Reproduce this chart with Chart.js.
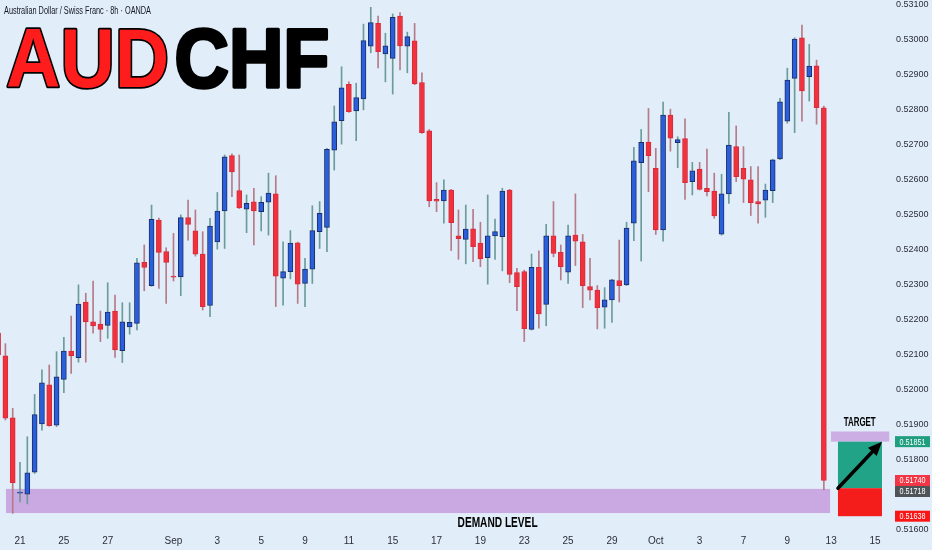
<!DOCTYPE html>
<html>
<head>
<meta charset="utf-8">
<title>AUDCHF 8h</title>
<script src="https://cdn.jsdelivr.net/npm/chart.js@4.4.1/dist/chart.umd.min.js"></script>
<style>
  html, body { margin: 0; padding: 0; background: #e1edf8; }
  canvas { display: block; }
</style>
</head>
<body>
<canvas id="chart" width="932" height="550"></canvas>
<script>
// 8h candles (oldest first)
const opens = [
  0.52161, 0.52096, 0.51919, 0.51704, 0.51701, 0.51764, 0.51902, 0.52013, 0.51898, 0.52029,
  0.52110, 0.52091, 0.52250, 0.52193, 0.52187, 0.52183, 0.52224, 0.52111, 0.52179, 0.52189,
  0.52363, 0.52297, 0.52484, 0.52394, 0.52324, 0.52322, 0.52491, 0.52453, 0.52387, 0.52240,
  0.52422, 0.52510, 0.52668, 0.52568, 0.52515, 0.52536, 0.52508, 0.52535, 0.52559, 0.52318,
  0.52337, 0.52419, 0.52303, 0.52344, 0.52451, 0.52463, 0.52684, 0.52768, 0.52872, 0.52796,
  0.52830, 0.52981, 0.53046, 0.52959, 0.52946, 0.53067, 0.52981, 0.52996, 0.52877, 0.52739,
  0.52543, 0.52539, 0.52570, 0.52439, 0.52429, 0.52459, 0.52418, 0.52377, 0.52439, 0.52437,
  0.52570, 0.52334, 0.52337, 0.52172, 0.52349, 0.52243, 0.52439, 0.52392, 0.52335, 0.52441,
  0.52422, 0.52294, 0.52284, 0.52235, 0.52256, 0.52311, 0.52299, 0.52475, 0.52648, 0.52707,
  0.52632, 0.52456, 0.52784, 0.52705, 0.52717, 0.52594, 0.52630, 0.52575, 0.52567, 0.52444,
  0.52559, 0.52694, 0.52632, 0.52599, 0.52537, 0.52541, 0.52568, 0.52659, 0.52767, 0.52889,
  0.53005, 0.52894, 0.52925, 0.52805
];
const highs = [
  0.52170, 0.52131, 0.51946, 0.51792, 0.51865, 0.51986, 0.52056, 0.52070, 0.52108, 0.52149,
  0.52210, 0.52299, 0.52275, 0.52310, 0.52224, 0.52305, 0.52270, 0.52248, 0.52248, 0.52375,
  0.52413, 0.52527, 0.52490, 0.52405, 0.52446, 0.52499, 0.52541, 0.52513, 0.52451, 0.52489,
  0.52563, 0.52670, 0.52673, 0.52670, 0.52556, 0.52575, 0.52551, 0.52618, 0.52611, 0.52422,
  0.52454, 0.52421, 0.52375, 0.52525, 0.52537, 0.52689, 0.52810, 0.52922, 0.52879, 0.52875,
  0.53044, 0.53092, 0.53067, 0.53018, 0.53073, 0.53077, 0.53021, 0.53046, 0.52905, 0.52743,
  0.52591, 0.52599, 0.52572, 0.52513, 0.52527, 0.52515, 0.52478, 0.52556, 0.52487, 0.52575,
  0.52572, 0.52346, 0.52341, 0.52387, 0.52396, 0.52472, 0.52537, 0.52413, 0.52470, 0.52559,
  0.52443, 0.52375, 0.52297, 0.52291, 0.52315, 0.52427, 0.52478, 0.52692, 0.52743, 0.52803,
  0.52689, 0.52821, 0.52801, 0.52722, 0.52773, 0.52649, 0.52649, 0.52687, 0.52618, 0.52615,
  0.52792, 0.52753, 0.52694, 0.52637, 0.52637, 0.52587, 0.52658, 0.52832, 0.52918, 0.53005,
  0.53041, 0.52986, 0.52941, 0.52810
];
const lows = [
  0.52090, 0.51913, 0.51646, 0.51679, 0.51673, 0.51760, 0.51884, 0.51895, 0.51894, 0.51991,
  0.52046, 0.52078, 0.52078, 0.52161, 0.52137, 0.52146, 0.52092, 0.52077, 0.52158, 0.52170,
  0.52282, 0.52295, 0.52289, 0.52246, 0.52310, 0.52268, 0.52427, 0.52381, 0.52227, 0.52208,
  0.52401, 0.52403, 0.52551, 0.52517, 0.52448, 0.52413, 0.52453, 0.52441, 0.52237, 0.52241,
  0.52316, 0.52246, 0.52237, 0.52303, 0.52403, 0.52394, 0.52627, 0.52701, 0.52792, 0.52711,
  0.52799, 0.52962, 0.52919, 0.52879, 0.52844, 0.52913, 0.52905, 0.52871, 0.52732, 0.52522,
  0.52508, 0.52475, 0.52397, 0.52372, 0.52359, 0.52365, 0.52351, 0.52301, 0.52372, 0.52339,
  0.52305, 0.52225, 0.52137, 0.52170, 0.52175, 0.52182, 0.52379, 0.52313, 0.52303, 0.52354,
  0.52234, 0.52256, 0.52173, 0.52175, 0.52192, 0.52250, 0.52297, 0.52425, 0.52367, 0.52565,
  0.52443, 0.52424, 0.52681, 0.52634, 0.52543, 0.52556, 0.52570, 0.52553, 0.52489, 0.52441,
  0.52532, 0.52594, 0.52534, 0.52497, 0.52475, 0.52492, 0.52534, 0.52657, 0.52761, 0.52734,
  0.52767, 0.52824, 0.52758, 0.51713
];
const closes = [
  0.52099, 0.51918, 0.51734, 0.51707, 0.51762, 0.51928, 0.52019, 0.51897, 0.52036, 0.52110,
  0.52096, 0.52244, 0.52193, 0.52182, 0.52172, 0.52221, 0.52113, 0.52193, 0.52192, 0.52362,
  0.52349, 0.52486, 0.52392, 0.52363, 0.52321, 0.52491, 0.52472, 0.52387, 0.52237, 0.52467,
  0.52510, 0.52665, 0.52622, 0.52519, 0.52532, 0.52510, 0.52535, 0.52561, 0.52324, 0.52337,
  0.52418, 0.52301, 0.52344, 0.52454, 0.52503, 0.52686, 0.52765, 0.52862, 0.52794, 0.52834,
  0.52997, 0.53048, 0.52965, 0.52982, 0.53063, 0.52982, 0.53008, 0.52873, 0.52734, 0.52539,
  0.52538, 0.52570, 0.52477, 0.52431, 0.52458, 0.52408, 0.52373, 0.52439, 0.52451, 0.52567,
  0.52329, 0.52294, 0.52174, 0.52349, 0.52216, 0.52439, 0.52389, 0.52351, 0.52439, 0.52424,
  0.52297, 0.52284, 0.52234, 0.52256, 0.52313, 0.52297, 0.52461, 0.52653, 0.52706, 0.52668,
  0.52456, 0.52784, 0.52718, 0.52714, 0.52591, 0.52625, 0.52572, 0.52565, 0.52496, 0.52559,
  0.52698, 0.52608, 0.52601, 0.52534, 0.52530, 0.52570, 0.52656, 0.52822, 0.52884, 0.53001,
  0.52853, 0.52924, 0.52805, 0.51740
];

// date labels under the candles (candle index -> text)
const tickIdx  = [3, 9, 15, 24, 30, 36, 42, 48, 54, 60, 66, 72, 78, 84, 90, 96, 102, 108, 114, 120];
const tickText = ['21', '25', '27', 'Sep', '3', '5', '9', '11', '15', '17', '19', '23', '25', '29', 'Oct', '3', '7', '9', '13', '15'];

// price axis
const priceTicks = [0.516, 0.518, 0.519, 0.520, 0.521, 0.522, 0.523, 0.524, 0.525,
                    0.526, 0.527, 0.528, 0.529, 0.530, 0.531];

// drawn levels
const demandZone = [0.51647, 0.51716];
const targetZone = [0.51851, 0.51880];
const entryPrice = 0.51718;
const targetPrice = 0.51851;
const stopPrice = 0.51638;
const lastPrice = 0.51740;

const BG = '#e1edf8';
const UP = '#2a5fdc', UP_EDGE = '#1c2e6a', UP_WICK = '#6b9b9b';
const DN = '#f0323f', DN_EDGE = '#d82a38', DN_WICK = '#b67b89';
const isUp = i => closes[i] >= opens[i];

// text squeezed to a given width (the picture is horizontally condensed)
function squeeze(ctx, str, x, y, font, color, width, align) {
  ctx.save();
  ctx.font = font;
  ctx.fillStyle = color;
  ctx.textBaseline = 'middle';
  ctx.textAlign = align || 'center';
  const w = ctx.measureText(str).width;
  ctx.translate(x, y);
  ctx.scale(width / w, 1);
  ctx.fillText(str, 0, 0);
  ctx.restore();
}

const overlay = {
  id: 'overlay',
  beforeDraw(chart) {
    const ctx = chart.ctx;
    ctx.save();
    ctx.fillStyle = BG;
    ctx.fillRect(0, 0, chart.width, chart.height);
    ctx.restore();
  },
  beforeDatasetsDraw(chart) {
    const ctx = chart.ctx, X = v => chart.scales.x.getPixelForValue(v), Y = v => chart.scales.y.getPixelForValue(v);
    ctx.save();
    // demand zone
    ctx.fillStyle = '#caa9e2';
    ctx.fillRect(X(1.08), Y(demandZone[1]), X(113.85) - X(1.08), Y(demandZone[0]) - Y(demandZone[1]));
    // target zone
    ctx.fillStyle = '#ccaee4';
    ctx.fillRect(X(113.97), Y(targetZone[1]), X(121.95) - X(113.97), Y(targetZone[0]) - Y(targetZone[1]));
    // long position box
    const x0 = X(114.93), x1 = X(120.95);
    ctx.fillStyle = '#20a386';
    ctx.fillRect(x0, Y(targetPrice), x1 - x0, Y(entryPrice) - Y(targetPrice));
    ctx.fillStyle = '#f51c1c';
    ctx.fillRect(x0, Y(entryPrice), x1 - x0, Y(stopPrice) - Y(entryPrice));
    ctx.restore();
  },
  afterDatasetsDraw(chart) {
    const ctx = chart.ctx, X = v => chart.scales.x.getPixelForValue(v), Y = v => chart.scales.y.getPixelForValue(v);
    // arrow entry -> target
    const ax = X(114.93), ay = Y(entryPrice), bx = X(120.95), by = Y(targetPrice);
    const ang = Math.atan2(by - ay, bx - ax), head = 14;
    ctx.save();
    ctx.strokeStyle = '#000';
    ctx.fillStyle = '#000';
    ctx.lineWidth = 3.5;
    ctx.lineCap = 'round';
    ctx.beginPath();
    ctx.moveTo(ax, ay);
    ctx.lineTo(bx - Math.cos(ang) * head * 0.8, by - Math.sin(ang) * head * 0.8);
    ctx.stroke();
    ctx.beginPath();
    ctx.moveTo(bx, by);
    ctx.lineTo(bx - Math.cos(ang) * head + Math.sin(ang) * 6, by - Math.sin(ang) * head - Math.cos(ang) * 6);
    ctx.lineTo(bx - Math.cos(ang) * head - Math.sin(ang) * 6, by - Math.sin(ang) * head + Math.cos(ang) * 6);
    ctx.closePath();
    ctx.fill();
    ctx.restore();

    squeeze(ctx, 'TARGET', X(117.9), Y(0.51906), 'bold 12px "Liberation Sans"', '#000', 32);
    squeeze(ctx, 'DEMAND LEVEL', X(68.35), Y(0.51619), 'bold 14px "Liberation Sans"', '#000', 80);

    // headings
    squeeze(ctx, 'Australian Dollar / Swiss Franc · 8h · OANDA', 4, 11, '10px "Liberation Sans"', '#131722', 147, 'left');
    ctx.save();
    ctx.font = 'bold 84px "Liberation Sans"';
    const wA = ctx.measureText('AUD').width, wC = ctx.measureText('CHF').width;
    const sx = 318 / (wA + wC);
    ctx.translate(6, 86.5);
    ctx.scale(sx, 1);
    ctx.textBaseline = 'alphabetic';
    ctx.lineJoin = 'round';
    ctx.lineWidth = 3.5;
    ctx.strokeStyle = '#000';
    ctx.strokeText('AUD', 0, 0);
    ctx.fillStyle = '#ff1c1c';
    ctx.fillText('AUD', 0, 0);
    ctx.strokeText('CHF', wA + 6, 0);
    ctx.fillStyle = '#000';
    ctx.fillText('CHF', wA + 6, 0);
    ctx.restore();
  },
  afterDraw(chart) {
    const ctx = chart.ctx, Y = v => chart.scales.y.getPixelForValue(v);
    const tags = [
      [targetPrice, '#1f9e80'],
      [lastPrice, '#f23645'],
      [entryPrice, '#4f5459'],
      [stopPrice, '#fb1515']
    ];
    let prevBottom = -1e9;
    tags.forEach(([v, col]) => {
      let cy = Y(v);
      if (cy - 5.5 < prevBottom) cy = prevBottom + 5.5;
      prevBottom = cy + 5.5;
      ctx.save();
      ctx.fillStyle = col;
      ctx.fillRect(895, cy - 5.5, 35, 11);
      ctx.restore();
      squeeze(ctx, v.toFixed(5), 912.5, cy + 0.5, '9px "Liberation Sans"', '#fff', 26);
    });
  }
};

const bodies = {
  data: opens.map((o, i) => ({ x: i, y: [o, closes[i]] })),
  backgroundColor: c => isUp(c.dataIndex) ? UP : DN,
  borderColor: c => isUp(c.dataIndex) ? UP_EDGE : DN_EDGE,
  borderWidth: 1,
  borderSkipped: false,
  barThickness: 5,
  grouped: false
};
const wicks = {
  data: lows.map((l, i) => ({ x: i, y: [l, highs[i]] })),
  backgroundColor: c => isUp(c.dataIndex) ? UP_WICK : DN_WICK,
  borderWidth: 0,
  barThickness: 1,
  grouped: false
};

new Chart(document.getElementById('chart'), {
  type: 'bar',
  data: { datasets: [bodies, wicks] },
  options: {
    responsive: false,
    animation: false,
    devicePixelRatio: 1,
    layout: { padding: 0 },
    plugins: { legend: { display: false }, tooltip: { enabled: false } },
    scales: {
      x: {
        type: 'linear',
        offset: false,
        min: 0.261,
        max: 122.05,
        grid: { display: false, drawTicks: false, offset: false },
        border: { display: false },
        ticks: {
          autoSkip: false, maxRotation: 0, minRotation: 0, padding: 5,
          color: '#2a2e39', font: { family: '"Liberation Sans"', size: 10 },
          callback: (v, i) => tickText[i]
        },
        afterBuildTicks: s => { s.ticks = tickIdx.map(v => ({ value: v })); },
        afterFit: s => { s.height = 20; s.paddingLeft = 0; s.paddingRight = 0; }
      },
      y: {
        type: 'linear',
        position: 'right',
        min: 0.5159857,
        max: 0.5311286,
        grid: { display: false, drawTicks: false },
        border: { display: false },
        ticks: {
          autoSkip: false, padding: 6,
          color: '#2a2e39', font: { family: '"Liberation Sans"', size: 9 },
          callback: v => v.toFixed(5)
        },
        afterBuildTicks: s => { s.ticks = priceTicks.map(v => ({ value: v })); },
        afterFit: s => { s.width = 42; s.paddingTop = 0; s.paddingBottom = 0; }
      }
    }
  },
  plugins: [overlay]
});
</script>
</body>
</html>
